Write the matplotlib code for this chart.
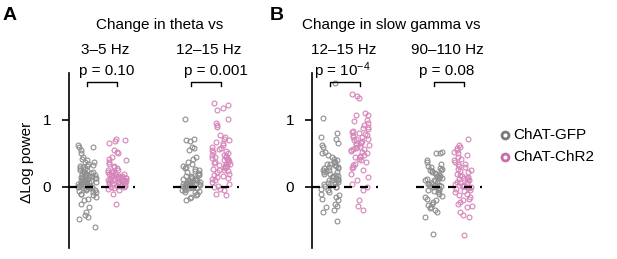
import numpy as np
import matplotlib
matplotlib.use("Agg")
import matplotlib.pyplot as plt
from matplotlib.lines import Line2D

plt.rcParams['font.family'] = ['Liberation Sans', 'DejaVu Sans']
plt.rcParams['mathtext.default'] = 'regular'

# ---------------- data ----------------
groups = ["ChAT-GFP", "ChAT-ChR2"]
panel_titles = ["Change in theta vs", "Change in slow gamma vs"]
cond_labels_A = ["3\u20135 Hz", "12\u201315 Hz"]
cond_labels_B = ["12\u201315 Hz", "90\u2013110 Hz"]
pvals_A = ["p = 0.10", "p = 0.001"]
pvals_B = ["p = 10$^{-4}$", "p = 0.08"]
yticks = [0, 1]

A1_gfp = [-0.6, -0.48, -0.45, -0.42, -0.38, -0.3, -0.25, -0.2, -0.18, -0.15, -0.12, -0.1, -0.08, -0.07,
          -0.05, -0.04, -0.03, -0.02, -0.01, 0.0, 0.0, 0.01, 0.02, 0.03, 0.04, 0.05, 0.05, 0.06, 0.07,
          0.08, 0.09, 0.1, 0.1, 0.11, 0.12, 0.13, 0.14, 0.15, 0.16, 0.17, 0.18, 0.19, 0.2, 0.21, 0.22,
          0.24, 0.25, 0.26, 0.28, 0.3, 0.31, 0.33, 0.35, 0.37, 0.38, 0.4, 0.42, 0.45, 0.5, 0.55, 0.6,
          0.6, 0.63, -0.06, 0.02, 0.08, 0.13, 0.18, 0.23, 0.27, 0.32, -0.11, 0.0, 0.15]
A1_chr2 = [-0.25, -0.1, -0.05, -0.03, -0.02, 0.0, 0.0, 0.01, 0.02, 0.03, 0.04, 0.05, 0.05, 0.06, 0.07,
           0.07, 0.08, 0.09, 0.1, 0.1, 0.11, 0.11, 0.12, 0.12, 0.13, 0.14, 0.15, 0.15, 0.16, 0.17, 0.18,
           0.18, 0.19, 0.2, 0.2, 0.21, 0.22, 0.23, 0.25, 0.26, 0.28, 0.3, 0.32, 0.35, 0.38, 0.4, 0.42,
           0.45, 0.5, 0.52, 0.55, 0.65, 0.68, 0.7, 0.72, 0.04, 0.09, 0.13, 0.17, 0.22, 0.02, 0.08, 0.14]
A2_gfp = [-0.2, -0.17, -0.15, -0.12, -0.1, -0.08, -0.06, -0.05, -0.04, -0.03, -0.02, -0.01, 0.0, 0.0,
          0.01, 0.01, 0.02, 0.03, 0.03, 0.04, 0.05, 0.05, 0.06, 0.07, 0.08, 0.09, 0.1, 0.1, 0.11, 0.12,
          0.13, 0.14, 0.15, 0.16, 0.18, 0.2, 0.22, 0.24, 0.25, 0.27, 0.3, 0.32, 0.35, 0.38, 0.42, 0.45,
          0.55, 0.58, 0.6, 0.68, 0.7, 0.72, 1.02, -0.07, 0.0, 0.04, 0.08, 0.12, 0.17, 0.21, 0.28, 0.02]
A2_chr2 = [-0.12, -0.1, -0.05, -0.03, 0.0, 0.02, 0.05, 0.08, 0.1, 0.12, 0.14, 0.15, 0.17, 0.18, 0.2,
           0.22, 0.24, 0.25, 0.27, 0.28, 0.3, 0.31, 0.33, 0.34, 0.35, 0.36, 0.38, 0.39, 0.4, 0.42, 0.43,
           0.45, 0.46, 0.48, 0.5, 0.52, 0.53, 0.55, 0.57, 0.6, 0.62, 0.65, 0.67, 0.7, 0.72, 0.75, 0.78,
           0.9, 0.93, 0.95, 1.02, 1.15, 1.18, 1.22, 1.25, 0.32, 0.37, 0.41, 0.47, 0.58, 0.26, 0.44]
B1_gfp = [-0.5, -0.38, -0.35, -0.3, -0.28, -0.25, -0.2, -0.18, -0.15, -0.12, -0.1, -0.08, -0.05, -0.03,
          0.0, 0.0, 0.02, 0.04, 0.05, 0.07, 0.08, 0.1, 0.1, 0.12, 0.13, 0.15, 0.16, 0.18, 0.2, 0.2, 0.22,
          0.23, 0.25, 0.26, 0.28, 0.3, 0.3, 0.32, 0.34, 0.35, 0.37, 0.38, 0.4, 0.42, 0.45, 0.48, 0.5,
          0.52, 0.6, 0.62, 0.65, 0.72, 0.75, 0.8, 1.03, 1.55, 0.06, 0.11, 0.17, 0.24, 0.29, 0.33, 0.01]
B1_chr2 = [-0.35, -0.28, -0.2, -0.05, 0.0, 0.05, 0.1, 0.15, 0.2, 0.25, 0.28, 0.3, 0.33, 0.35, 0.38, 0.4,
           0.42, 0.44, 0.46, 0.48, 0.5, 0.52, 0.54, 0.55, 0.57, 0.58, 0.6, 0.62, 0.63, 0.65, 0.67, 0.68,
           0.7, 0.72, 0.74, 0.75, 0.77, 0.78, 0.8, 0.82, 0.84, 0.86, 0.88, 0.9, 0.92, 0.95, 0.98, 1.0,
           1.07, 1.08, 1.1, 1.32, 1.35, 1.38, 0.45, 0.56, 0.66, 0.71, 0.79, 0.6]
B2_gfp = [-0.7, -0.45, -0.38, -0.35, -0.32, -0.3, -0.27, -0.25, -0.22, -0.2, -0.18, -0.15, -0.13, -0.1,
          -0.08, -0.06, -0.05, -0.03, -0.02, 0.0, 0.0, 0.01, 0.02, 0.04, 0.05, 0.06, 0.08, 0.1, 0.11,
          0.12, 0.14, 0.15, 0.17, 0.18, 0.2, 0.22, 0.24, 0.25, 0.27, 0.28, 0.3, 0.32, 0.35, 0.38, 0.4,
          0.5, 0.5, 0.52, 0.03, 0.09, 0.16, 0.21, 0.26, -0.04, 0.13]
B2_chr2 = [-0.72, -0.45, -0.42, -0.38, -0.3, -0.28, -0.25, -0.22, -0.2, -0.18, -0.15, -0.12, -0.1,
           -0.08, -0.05, -0.03, -0.02, 0.0, 0.0, 0.02, 0.03, 0.05, 0.06, 0.08, 0.1, 0.11, 0.12, 0.14,
           0.15, 0.17, 0.18, 0.2, 0.22, 0.25, 0.27, 0.3, 0.32, 0.35, 0.38, 0.4, 0.42, 0.45, 0.48, 0.5,
           0.52, 0.55, 0.58, 0.6, 0.62, 0.72, 0.01, 0.07, 0.13, -0.06, 0.24, 0.34]

panels = [
    [(A1_gfp, A1_chr2), (A2_gfp, A2_chr2)],
    [(B1_gfp, B1_chr2), (B2_gfp, B2_chr2)],
]

# ---------------- style ----------------
W, H = 617, 259
colors = ["#8e8e8e", "#d585b9"]
legend_colors = ["#7a7a7a", "#c96ca8"]
cond_pos = [0.0, 3.45]
fs = 11

fig = plt.figure(figsize=(W / 100, H / 100), dpi=100)

def fx(x):
    return x / W

def fy(y):
    return 1 - y / H

def jitter(n, k):
    # deterministic hash-based spread of horizontal offsets (layout only)
    i = np.arange(n) + 97 * k + 1
    h = np.sin(i * 12.9898 + k * 78.233) * 43758.5453
    return ((h % 1.0) - 0.5) * 0.62

axes_left_px = [69, 312]
for pi, left in enumerate(axes_left_px):
    ax = fig.add_axes([fx(left), fy(248), 186 / W, (248 - 73) / H])
    ax.set_xlim(-0.6, 5.6)
    ax.set_ylim(-0.91, 1.70)
    for s in ["top", "right", "bottom"]:
        ax.spines[s].set_visible(False)
    ax.spines["left"].set_linewidth(1.2)
    ax.set_xticks([])
    ax.set_yticks(yticks)
    ax.set_yticklabels([str(t) for t in yticks], fontsize=fs)
    ax.tick_params(axis="y", length=5, width=1.2, pad=8)
    ax.patch.set_alpha(0)
    for ci, (gfp, chr2) in enumerate(panels[pi]):
        base = cond_pos[ci]
        xs = [base, base + 1]
        # zero reference dashed line
        ax.plot([xs[0] - 0.6, xs[1] + 0.6], [0, 0], color="black", lw=1.6,
                dashes=(3.6, 3.6), solid_capstyle="butt", dash_capstyle="butt", zorder=3)
        for gi, vals in enumerate((gfp, chr2)):
            v = np.asarray(vals)
            x = xs[gi] + jitter(len(v), ci * 2 + gi + 4 * pi)
            ax.plot(x, v, "o", ms=3.5, mfc="none", mec=colors[gi], mew=0.8, zorder=2)
        # significance bracket
        ax.plot([xs[0], xs[0], xs[1], xs[1]], [1.51, 1.57, 1.57, 1.51], color="black",
                lw=1.0, clip_on=False)

# ---------------- texts ----------------
fig.text(fx(10), fy(15), "A", fontsize=14, fontweight="bold", ha="center", va="center")
fig.text(fx(277), fy(15), "B", fontsize=14, fontweight="bold", ha="center", va="center")
fig.text(fx(160), fy(25), panel_titles[0], fontsize=fs, ha="center", va="center")
fig.text(fx(391), fy(25), panel_titles[1], fontsize=fs, ha="center", va="center")
for x, s in zip([105, 209], cond_labels_A):
    fig.text(fx(x), fy(50), s, fontsize=fs, ha="center", va="center")
for x, s in zip([344, 447], cond_labels_B):
    fig.text(fx(x), fy(50), s, fontsize=fs, ha="center", va="center")
for x, s in zip([107, 216], pvals_A):
    fig.text(fx(x), fy(71), s, fontsize=fs, ha="center", va="center")
for x, s in zip([342, 447], pvals_B):
    fig.text(fx(x), fy(71), s, fontsize=fs, ha="center", va="center")
fig.text(fx(27), fy(162), "\u0394Log power", fontsize=fs, rotation=90, ha="center", va="center")

# legend
for yy, lab, c in zip([135, 157], groups, legend_colors):
    fig.add_artist(Line2D([fx(505)], [fy(yy)], transform=fig.transFigure, marker="o",
                          ms=5, mfc="none", mec=c, mew=2.0, ls="none"))
    fig.text(fx(513), fy(yy), lab, fontsize=fs, ha="left", va="center")

fig.savefig("out.png", dpi=100)
